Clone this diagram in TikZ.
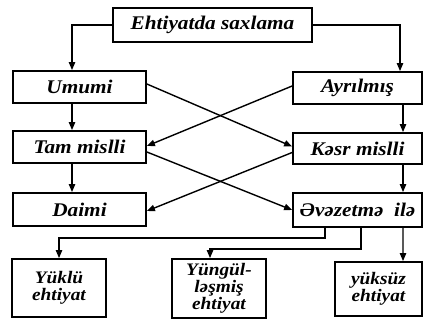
\documentclass[tikz,border=0pt]{standalone}
\usepackage{fontspec}
\setmainfont{Liberation Serif}[FakeStretch=1.1]
\usetikzlibrary{arrows.meta}
\tikzset{
  box/.style={draw, line width=1.5pt, inner sep=0pt, align=center,
    font=\fontsize{16.5}{18}\selectfont\bfseries\itshape},
  smallbox/.style={box, font=\fontsize{15}{15}\selectfont\bfseries\itshape},
  arr/.style={line width=1.2pt, -{Triangle[length=2.4mm,width=1.9mm]}}
}
\begin{document}
\begin{tikzpicture}[x=0.3mm,y=-0.3mm]
\useasboundingbox (0,0) rectangle (423,320);
% boxes
\node[box, minimum width=59.7mm, minimum height=10.2mm] (top) at (212.5,25) {Ehtiyatda saxlama};
\node[box, minimum width=39.9mm, minimum height=9.6mm] (umumi) at (79.5,87) {Umumi};
\node[box, minimum width=38.7mm, minimum height=9.6mm] (ayrilmis) at (357.5,88) {Ayrılmış};
\node[box, minimum width=39.9mm, minimum height=9.6mm] (tam) at (79.5,147) {Tam mislli};
\node[box, minimum width=38.7mm, minimum height=9.3mm] (kesr) at (357.5,148.5) {Kəsr mislli};
\node[box, minimum width=39.9mm, minimum height=9.9mm] (daimi) at (79.5,209.5) {Daimi};
\node[box, minimum width=38.7mm, minimum height=10.2mm] (evez) at (357.5,210) {Əvəzetmə~ ilə};
\node[smallbox, minimum width=28.2mm, minimum height=17.4mm] (yuklu) at (59,288) {Yüklü\\ehtiyat};
\node[smallbox, minimum width=28.2mm, minimum height=17.7mm,
  font=\fontsize{15}{12.5}\selectfont\bfseries\itshape] (yungul) at (219,288.5) {Yüngül-\\ləşmiş\\ehtiyat};
\node[smallbox, minimum width=26.1mm, minimum height=16.2mm] (yuksuz) at (378.5,289) {yüksüz\\ehtiyat};
% connectors
\draw[arr] (top.west) -| ([xshift=-2.25mm]umumi.north);
\draw[arr] (top.east) -| ([xshift=12.75mm]ayrilmis.north);
\draw[arr] ([xshift=-2.25mm]umumi.south) -- ([xshift=-2.25mm]tam.north);
\draw[arr] ([xshift=-2.25mm]tam.south) -- ([xshift=-2.25mm]daimi.north);
\draw[arr] ([xshift=13.65mm]ayrilmis.south) -- ([xshift=13.65mm]kesr.north);
\draw[arr] ([xshift=13.65mm]kesr.south) -- ([xshift=13.65mm]evez.north);
\draw[arr] ([yshift=0.9mm]umumi.east) -- ([yshift=0.6mm]kesr.west);
\draw[arr] ([yshift=0.6mm]ayrilmis.west) -- ([yshift=0.3mm]tam.east);
\draw[arr] ([yshift=-1.5mm]tam.east) -- (evez.west);
\draw[arr] ([yshift=-1.2mm]kesr.west) -- ([yshift=-0.45mm]daimi.east);
\draw[arr] ([xshift=-9.75mm]evez.south) -- ++(0,10) -| (yuklu.north);
\draw[arr] ([xshift=1.05mm]evez.south) -- ++(0,21) -| ([xshift=-2.7mm]yungul.north);
\draw[arr] ([xshift=13.65mm]evez.south) -- ([xshift=7.35mm]yuksuz.north);
\end{tikzpicture}
\end{document}
